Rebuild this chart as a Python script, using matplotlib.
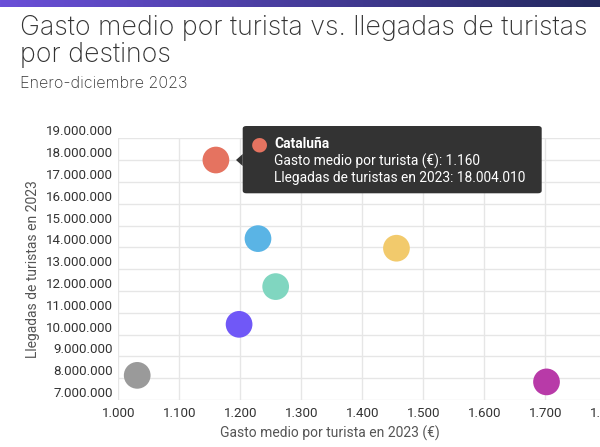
import numpy as np
import matplotlib.pyplot as plt
from matplotlib.patches import FancyBboxPatch, Polygon
from matplotlib.transforms import ScaledTranslation
from matplotlib.colors import LinearSegmentedColormap

# datos: gasto medio por turista (€) y llegadas de turistas 2023
gasto = [1160, 1229, 1258, 1198, 1031, 1456, 1702]
llegadas = [18004010, 14400000, 12200000, 10470000, 8130000, 13960000, 7830000]
colores = ['#E57360', '#5AB4E5', '#80D6C0', '#7058F7', '#9A9A9A', '#F2CA6C', '#B83AA8']

x_ticks = [1000, 1100, 1200, 1300, 1400, 1500, 1600, 1700, 1800]
y_ticks = [7e6, 8e6, 9e6, 10e6, 11e6, 12e6, 13e6, 14e6, 15e6, 16e6, 17e6, 18e6, 19e6]


def miles(v):
    return f'{int(v):,}'.replace(',', '.')


W, H = 600, 447
fig = plt.figure(figsize=(W / 100, H / 100), dpi=100)

# barra degradada superior
bar = fig.add_axes([0, 1 - 7 / H, 1, 7 / H])
grad = np.linspace(0, 1, 256).reshape(1, -1)
cmap = LinearSegmentedColormap.from_list('top', ['#6A4FD8', '#23295E'])
bar.imshow(grad, aspect='auto', cmap=cmap)
bar.axis('off')

# título y subtítulo
fig.text(20 / W, 1 - 35 / H, 'Gasto medio por turista vs. llegadas de turistas',
         fontsize=19.3, family='Inter', fontweight='light', color='#333333', va='baseline')
fig.text(20 / W, 1 - 62 / H, 'por destinos',
         fontsize=19.3, family='Inter', fontweight='light', color='#333333', va='baseline')
fig.text(20 / W, 1 - 88 / H, 'Enero-diciembre 2023',
         fontsize=11.6, family='Inter', fontweight='light', color='#333333', va='baseline')

left, right, top, bottom = 118.3, 606.3, 138.3, 400
ax = fig.add_axes([left / W, 1 - bottom / H, (right - left) / W, (bottom - top) / H])
ax.set_xlim(1000, 1800)
ax.set_ylim(7e6, 19e6)
ax.set_xticks(x_ticks)
ax.set_yticks(y_ticks)
ax.grid(True, color='#E6E6E6', linewidth=1)
ax.set_axisbelow(True)
for s in ax.spines.values():
    s.set_visible(False)
ax.tick_params(length=0)
ax.set_xticklabels([miles(v) for v in x_ticks], family='Roboto', fontsize=9.6, color='#333333')
ax.tick_params(axis='x', pad=5)
ax.set_yticklabels([])

# etiquetas del eje y, algo por encima de la línea
off = ScaledTranslation(-5.5 / 100, 3 / 100, fig.dpi_scale_trans)
for v in y_ticks:
    ax.text(0, v, miles(v), transform=ax.get_yaxis_transform() + off,
            ha='right', va='baseline', family='Roboto', fontsize=9.6, color='#333333')

ax.scatter(gasto, llegadas, s=370, c=colores, linewidths=0, zorder=3)

fig.text(33 / W, 1 - 269 / H, 'Llegadas de turistas en 2023', rotation=90,
         ha='center', va='center', family='Roboto', fontsize=10, color='#555555')
fig.text(330 / W, 1 - 433 / H, 'Gasto medio por turista en 2023 (€)',
         ha='center', va='center', family='Roboto', fontsize=10, color='#555555')

# tooltip de Cataluña
tx0, ty0, tx1, ty1 = 242.7, 126, 541.7, 193.3
box = FancyBboxPatch((tx0 / W, 1 - ty1 / H), (tx1 - tx0) / W, (ty1 - ty0) / H,
                     boxstyle='round,pad=0,rounding_size=0.006', transform=fig.transFigure,
                     facecolor='#333333', edgecolor='none', zorder=10)
fig.patches.append(box)
arrow = Polygon([(tx0 / W, 1 - 154 / H), (236 / W, 1 - 160 / H), (tx0 / W, 1 - 166 / H)],
                closed=True, transform=fig.transFigure, facecolor='#333333',
                edgecolor='none', zorder=10)
fig.patches.append(arrow)
fig.text(259 / W, 1 - 144 / H, '●', ha='center', va='center', fontsize=14,
         color=colores[0], family='DejaVu Sans', zorder=11)
fig.text(274.3 / W, 1 - 144 / H, 'Cataluña', ha='left', va='center', family='Roboto',
         fontsize=9.9, fontweight='bold', color='white', zorder=11)
fig.text(274.3 / W, 1 - 161.7 / H, f'Gasto medio por turista (€): {miles(gasto[0])}',
         ha='left', va='center', family='Roboto', fontsize=9.9, color='white', zorder=11)
fig.text(274.3 / W, 1 - 177.7 / H, f'Llegadas de turistas en 2023: {miles(llegadas[0])}',
         ha='left', va='center', family='Roboto', fontsize=9.9, color='white', zorder=11)

fig.savefig('out.png', dpi=100)
